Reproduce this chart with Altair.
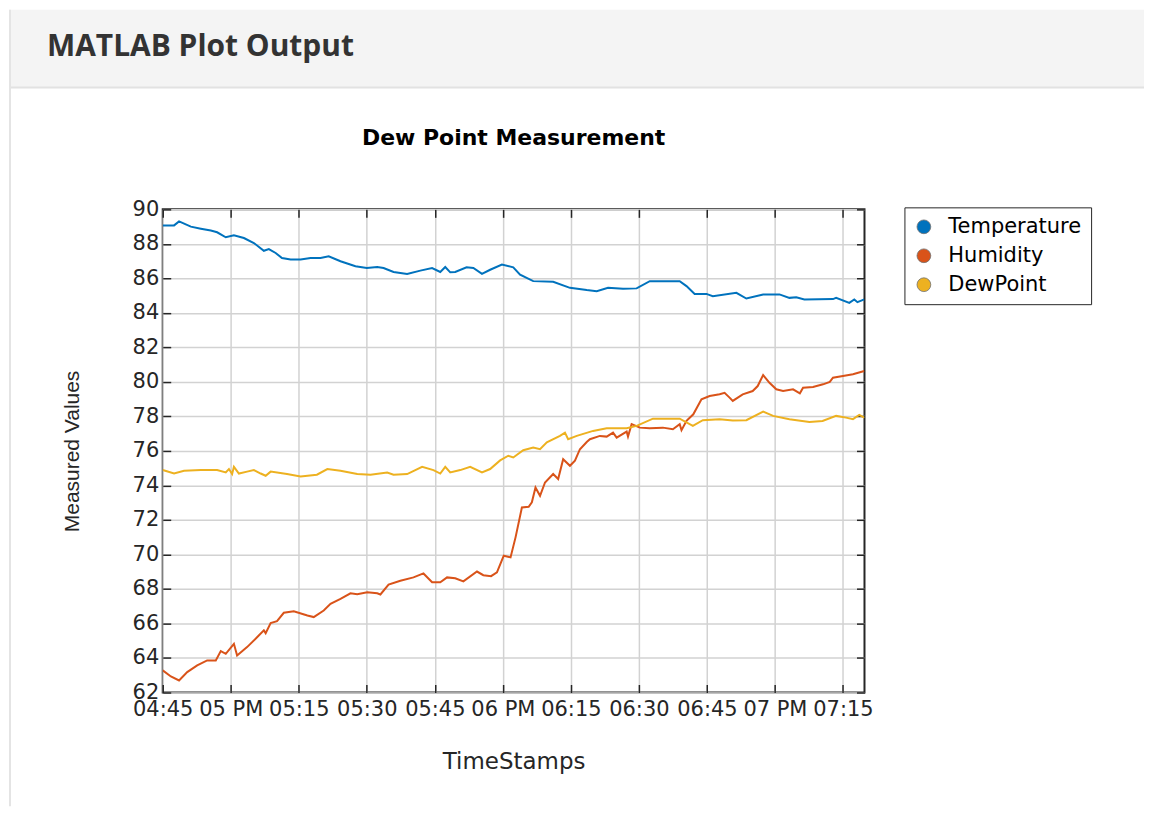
import altair as alt
import pandas as pd

# ---------------- data (minutes after 04:45 PM) ----------------
series_names = ["Temperature", "Humidity", "DewPoint"]
series_colors = ["#0072BD", "#D95319", "#EDB120"]

temp_t = [0, 2.5, 3.6, 6.2, 8.4, 10.6, 12, 13.9, 15.7, 17.9,
          20.1, 22.3, 23.4, 24.9, 26.3, 28.2, 30.4, 32.6, 34.8, 36.6,
          39.2, 42.5, 45, 47.3, 48.7, 50.9, 53.9, 56.8, 59.4, 61.2,
          62.3, 63.4, 64.5, 67, 68.5, 70.4, 72.2, 74.8, 77.3, 78.8,
          81.7, 86.1, 89.8, 93.5, 95.7, 98.2, 101.5, 104.5, 107.4, 110.3,
          114, 115.5, 117.3, 119.9, 121.3, 126.5, 128.7, 132.4, 136, 138.2,
          139.7, 141.5, 147.8, 148.5, 151.4, 152.5, 153.2, 154.7]
temp_v = [89.07, 89.07, 89.3, 89.0, 88.88, 88.77, 88.67, 88.38, 88.5, 88.34,
          88.05, 87.6, 87.7, 87.47, 87.18, 87.09, 87.09, 87.18, 87.18, 87.28,
          86.99, 86.7, 86.6, 86.66, 86.6, 86.37, 86.26, 86.45, 86.6, 86.37,
          86.66, 86.35, 86.37, 86.64, 86.6, 86.26, 86.5, 86.8, 86.64, 86.22,
          85.84, 85.8, 85.45, 85.32, 85.26, 85.45, 85.4, 85.42, 85.84, 85.84,
          85.84, 85.55, 85.1, 85.1, 84.97, 85.16, 84.83, 85.07, 85.07, 84.87,
          84.9, 84.78, 84.8, 84.87, 84.58, 84.78, 84.62, 84.78]

hum_t = [0, 1.8, 3.6, 5.4, 7.6, 9.8, 11.7, 12.8, 13.9, 15.7,
         16.4, 18.6, 20.8, 22.3, 22.7, 23.8, 25.2, 26.7, 28.9, 31.9,
         33.3, 35.5, 37, 39.2, 41.4, 42.9, 45.1, 47.3, 48, 49.8,
         52.4, 55.3, 57.5, 59.4, 61.2, 62.7, 64.5, 66.3, 69.3, 70.7,
         72.4, 73.7, 75.2, 76.7, 77.8, 79.2, 80.7, 81.4, 82.2, 83.2,
         84.3, 86.1, 87.2, 88.3, 89.8, 90.9, 92, 93.5, 94.2, 96.4,
         97.9, 99.3, 100.1, 102.3, 102.6, 103.4, 105.2, 107.4, 110.3, 112.5,
         114, 114.4, 115.5, 117, 118.8, 120.6, 122.8, 123.9, 125, 125.7,
         127.9, 130.1, 131.2, 132.4, 133.8, 135.3, 136.8, 139, 140.5, 141.2,
         143.4, 145.6, 147.1, 147.8, 150, 152.2, 154.7]
hum_v = [63.28, 62.93, 62.7, 63.18, 63.57, 63.86, 63.86, 64.4, 64.24, 64.82,
         64.15, 64.63, 65.2, 65.6, 65.44, 66.02, 66.13, 66.62, 66.71, 66.46,
         66.37, 66.75, 67.14, 67.43, 67.75, 67.7, 67.81, 67.75, 67.68, 68.25,
         68.48, 68.67, 68.9, 68.39, 68.39, 68.67, 68.62, 68.44, 69.01, 68.8,
         68.74, 68.96, 69.93, 69.83, 70.99, 72.72, 72.76, 73.02, 73.88, 73.4,
         74.17, 74.66, 74.37, 75.52, 75.14, 75.43, 76.1, 76.52, 76.68, 76.87,
         76.83, 77.06, 76.77, 77.12, 76.83, 77.55, 77.35, 77.31, 77.35, 77.26,
         77.55, 77.2, 77.74, 78.12, 78.99, 79.18, 79.28, 79.37, 79.09, 78.9,
         79.28, 79.47, 79.76, 80.4, 79.95, 79.57, 79.47, 79.57, 79.34, 79.66,
         79.7, 79.86, 80.0, 80.24, 80.34, 80.44, 80.63]

dew_t = [0, 2.5, 4.7, 8.4, 12, 13.9, 14.6, 15.3, 15.7, 16.8,
         18.6, 20.1, 21.6, 22.7, 23.8, 27.4, 30.4, 34, 36.3, 39.2,
         42.9, 45.8, 49.5, 50.9, 53.9, 57.2, 59.7, 61.2, 62.3, 63.4,
         65.6, 67.8, 70.4, 72.2, 74.4, 76.2, 77.3, 79.5, 81.7, 83.2,
         84.7, 87.6, 88.7, 89.4, 91.3, 94.9, 97.9, 102.3, 104.5, 108.1,
         114, 116.9, 119.1, 122.8, 125.7, 128.7, 132.4, 134.6, 138.2, 142.6,
         145.5, 148.5, 150.7, 152.2, 153.6, 154.7]
dew_v = [74.89, 74.69, 74.85, 74.89, 74.89, 74.75, 74.95, 74.66, 75.08, 74.69,
         74.8, 74.89, 74.69, 74.56, 74.8, 74.66, 74.52, 74.62, 74.95, 74.85,
         74.66, 74.62, 74.75, 74.62, 74.66, 75.08, 74.89, 74.69, 75.08, 74.75,
         74.89, 75.08, 74.75, 74.95, 75.45, 75.72, 75.62, 76.04, 76.2, 76.1,
         76.5, 76.87, 77.06, 76.68, 76.87, 77.16, 77.31, 77.31, 77.45, 77.87,
         77.87, 77.45, 77.78, 77.83, 77.76, 77.78, 78.28, 78.03, 77.84, 77.68,
         77.74, 78.03, 77.93, 77.84, 78.09, 77.93]

y_ticks = list(range(62, 91, 2))
# x tick positions: minutes after 04:45 PM
x_tick_minutes = [0, 15, 30, 45, 60, 75, 90, 105, 120, 135, 150]

# ---------------- build table ----------------
base_time = pd.Timestamp("2024-01-01 16:45:00")


def to_dt(minutes):
    ts = base_time + pd.Timedelta(minutes=minutes)
    return alt.DateTime(year=ts.year, month=ts.month, date=ts.day,
                        hours=ts.hour, minutes=ts.minute, seconds=ts.second)


frames = []
for name, ts, vs in [("Temperature", temp_t, temp_v),
                     ("Humidity", hum_t, hum_v),
                     ("DewPoint", dew_t, dew_v)]:
    frames.append(pd.DataFrame({
        "time": (base_time + pd.to_timedelta(ts, unit="min")).strftime("%Y-%m-%dT%H:%M:%S"),
        "value": vs,
        "series": name,
    }))
df = pd.concat(frames, ignore_index=True)

W, H = 703, 484
AX = "#262626"
label_expr = ("minutes(datum.value) == 0 ? timeFormat(datum.value, '%I %p') "
              ": timeFormat(datum.value, '%I:%M')")
x_tick_values = [to_dt(m) for m in x_tick_minutes]

x_scale = alt.Scale(domain=[to_dt(0), to_dt(154.75)], nice=False)
y_scale = alt.Scale(domain=[62, 90], nice=False, zero=False)
color_scale = alt.Scale(domain=series_names, range=series_colors)

x_axis = alt.Axis(title="TimeStamps", orient="bottom", offset=-8, tickSize=8, tickWidth=1.5,
                  tickColor=AX, domain=False, grid=True, gridColor="#d2d2d2", gridWidth=1.5,
                  values=x_tick_values, labelExpr=label_expr, labelFont="DejaVu Sans",
                  labelFontSize=21, labelColor=AX, labelPadding=6, labelOverlap=False,
                  labelFlush=False, titleFont="DejaVu Sans", titleFontSize=23,
                  titleFontWeight="normal", titleColor=AX, titleX=W / 2, titleY=84,
                  titleAlign="center", titleBaseline="alphabetic")
y_axis = alt.Axis(title="Measured Values", orient="left", offset=-8, tickSize=8, tickWidth=1.5,
                  tickColor=AX, domain=False, grid=True, gridColor="#d2d2d2", gridWidth=1.5,
                  values=y_ticks, format="d", labelFont="DejaVu Sans", labelFontSize=21,
                  labelColor=AX, labelPadding=4, labelOverlap=False,
                  titleFont="Liberation Sans", titleFontSize=21, titleFontWeight="normal",
                  titleColor=AX, titleAngle=270, titleX=-92, titleY=H / 2,
                  titleAlign="center", titleBaseline="alphabetic")
x_axis_top = alt.Axis(title=None, orient="top", offset=-8, tickSize=8, tickWidth=1.5,
                      tickColor=AX, domain=False, grid=False, labels=False, values=x_tick_values)
y_axis_right = alt.Axis(title=None, orient="right", offset=-8, tickSize=8, tickWidth=1.5,
                        tickColor=AX, domain=False, grid=False, labels=False, values=y_ticks)

legend = alt.Legend(
    title=None, orient="none", legendX=743, legendY=-2, symbolType="circle", symbolSize=190,
    labelFont="DejaVu Sans", labelFontSize=21, labelColor="#000000", labelOffset=14,
    strokeColor=AX, fillColor="white", padding=9, rowPadding=7, cornerRadius=0,
    symbolStrokeColor="#707070", symbolStrokeWidth=0.8,
)

lines = alt.Chart(df).mark_line(strokeWidth=2, clip=True).encode(
    x=alt.X("time:T", scale=x_scale, axis=x_axis),
    y=alt.Y("value:Q", scale=y_scale, axis=y_axis),
    color=alt.Color("series:N", scale=color_scale, legend=None),
    detail="series:N",
)

# legend source: filled circles, no rows drawn (filtered out)
legend_layer = alt.Chart(df).transform_filter("datum.value < 0").mark_circle(opacity=1).encode(
    x=alt.value(0), y=alt.value(0),
    color=alt.Color("series:N", scale=color_scale, legend=legend),
)

frame_axes = alt.Chart(df).mark_line(opacity=0).encode(
    x=alt.X("time:T", scale=x_scale, axis=x_axis_top),
    y=alt.Y("value:Q", scale=y_scale, axis=y_axis_right),
    detail="series:N",
)

# ---------------- page decoration (header band, panel border, titles) ----------------
header_df = pd.DataFrame({"label": ["MATLAB Plot Output"]})
title_df = pd.DataFrame({"label": ["Dew Point Measurement"]})

band = alt.Chart(header_df).mark_rect(color="#f4f4f4").encode(
    x=alt.value(-154), x2=alt.value(983), y=alt.value(-200), y2=alt.value(-122))
band_line = alt.Chart(header_df).mark_rule(color="#e2e2e2", strokeWidth=2).encode(
    x=alt.value(-154), x2=alt.value(983), y=alt.value(-122))
left_border = alt.Chart(header_df).mark_rule(color="#e4e4e4", strokeWidth=2).encode(
    x=alt.value(-153), y=alt.value(-200), y2=alt.value(598))
header_text = alt.Chart(header_df).mark_text(
    align="left", baseline="alphabetic", font="Open Sans", fontSize=30, fontWeight="bold",
    color="#333333").encode(x=alt.value(-116), y=alt.value(-154), text="label:N")
title_text = alt.Chart(title_df).mark_text(
    align="center", baseline="alphabetic", font="DejaVu Sans", fontSize=22, fontWeight="bold",
    color="#000000").encode(x=alt.value(W / 2), y=alt.value(-64), text="label:N")

chart = alt.layer(
    band, band_line, left_border, header_text, title_text, lines, frame_axes, legend_layer
).resolve_axis(x="independent", y="independent").resolve_legend(color="independent").properties(
    width=W, height=H, padding=0, background="white"
).configure_view(stroke=AX, strokeWidth=2)

chart.save("out.html", embed_options={"renderer": "svg", "actions": False})
